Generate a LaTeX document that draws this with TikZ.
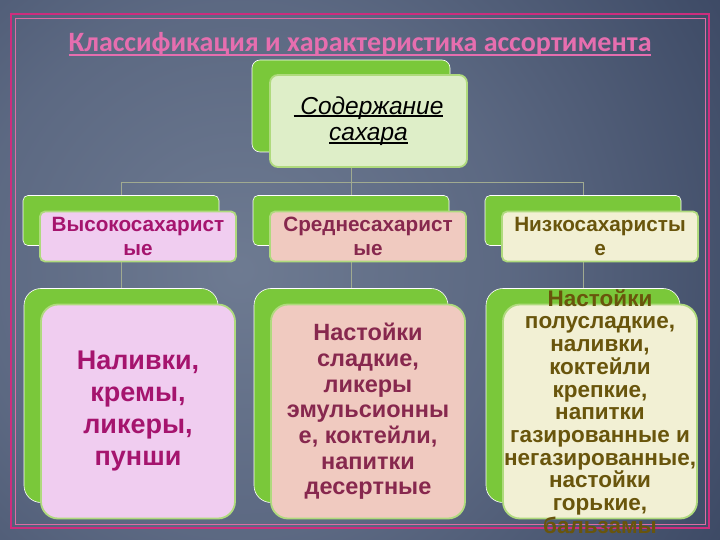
\documentclass[tikz,border=0pt]{standalone}
\usepackage{fontspec}
\setmainfont{Liberation Sans}
\newfontfamily\headfont{Carlito}
\usepackage{tikz}

\newcommand{\myuline}[2][3pt]{\setbox0\hbox{#2}\rlap{\rule[-#1]{\wd0}{1.6pt}}\box0}

\definecolor{bgdark}{RGB}{28,38,60}
\definecolor{framepink}{RGB}{205,45,125}
\definecolor{titlepink}{RGB}{230,110,175}
\definecolor{leafgreen}{RGB}{122,200,58}
\definecolor{edgegreen}{RGB}{175,218,125}
\definecolor{topfill}{RGB}{222,238,200}
\definecolor{highfill}{RGB}{240,205,240}
\definecolor{midfill}{RGB}{240,202,192}
\definecolor{lowfill}{RGB}{242,240,212}
\definecolor{hightext}{RGB}{165,20,110}
\definecolor{midtext}{RGB}{135,40,78}
\definecolor{lowtext}{RGB}{105,85,12}
\definecolor{linkgray}{RGB}{160,170,145}

\pgfdeclareradialshading{bgglow}{\pgfpointorigin}{rgb(0bp)=(0.43,0.48,0.57); rgb(12bp)=(0.36,0.41,0.51); rgb(30bp)=(0.19,0.24,0.35); rgb(50bp)=(0.11,0.15,0.25)}

\tikzset{
  backbox/.style={draw=white, line width=0.6pt, fill=leafgreen, rounded corners=5pt},
  frontbox/.style={draw=edgegreen, line width=1.8pt, rounded corners=5pt},
  smallbox/.style={minimum width=196pt, minimum height=50pt},
  bigbox/.style={minimum width=194pt, minimum height=214pt, rounded corners=17pt},
  link/.style={draw=linkgray, line width=0.7pt},
  headtext/.style={font=\fontsize{20.7}{24}\selectfont\bfseries, align=center},
  listtext/.style={align=center}
}

\begin{document}
\begin{tikzpicture}[x=1pt,y=-1pt]
\useasboundingbox (0,0) rectangle (720,540);
\begin{scope}
  \clip (0,0) rectangle (720,540);
  \shade[shading=bgglow] (240,270) circle (560);
\end{scope}
\draw[framepink, line width=2pt] (11,14) rectangle (709,528);
\draw[framepink!70, line width=0.7pt] (15,18) rectangle (705,524);

\node[text=titlepink, font=\headfont\fontsize{28}{32}\selectfont\bfseries] (title) at (360,44) {\myuline[5pt]{Классификация и характеристика ассортимента}};

% back boxes
\node[backbox, minimum width=198pt, minimum height=92pt, rounded corners=8pt] (sugarback) at (351,106) {};
\node[backbox, smallbox] (highback) at (121,220.5) {};
\node[backbox, smallbox] (midback) at (351,220.5) {};
\node[backbox, smallbox] (lowback) at (583,220.5) {};
\node[backbox, bigbox] (highbase) at (121,395.5) {};
\node[backbox, bigbox] (midbase) at (351,395.5) {};
\node[backbox, bigbox] (lowbase) at (583,395.5) {};

\coordinate (fork) at (351,182);
\draw[link] (sugarback.south) -- (fork);
\draw[link] (fork) -| (highback.north);
\draw[link] (fork) -- (midback.north);
\draw[link] (fork) -| (lowback.north);
\draw[link] (highback.south) -- (highbase.north);
\draw[link] (midback.south) -- (midbase.north);
\draw[link] (lowback.south) -- (lowbase.north);

% front boxes
\node[frontbox, fill=topfill, minimum width=197pt, minimum height=92pt, rounded corners=8pt,
  font=\fontsize{24.5}{26.5}\selectfont\itshape, align=center] (sugar) at (368.5,121) {\myuline{ Содержание}\\\myuline{сахара}};
\node[frontbox, smallbox, fill=highfill, headtext, text=hightext] (high) at (138,236.5) {Высокосахарист\\ые};
\node[frontbox, smallbox, fill=midfill, headtext, text=midtext] (mid) at (368,236.5) {Среднесахарист\\ые};
\node[frontbox, smallbox, fill=lowfill, headtext, text=lowtext] (low) at (600,236.5) {Низкосахаристы\\е};

\node[frontbox, bigbox, fill=highfill] (highfront) at (138,411.5) {};
\node[frontbox, bigbox, fill=midfill] (midfront) at (368,411.5) {};
\node[frontbox, bigbox, fill=lowfill] (lowfront) at (600,411.5) {};

\node[listtext, text=hightext, font=\fontsize{27}{32}\selectfont\bfseries] (highlist) at (highfront.center)
  {Наливки,\\кремы,\\ликеры,\\пунши};
\node[listtext, text=midtext, font=\fontsize{23.5}{25.7}\selectfont\bfseries] (midlist) at (midfront.center)
  {Настойки\\сладкие,\\ликеры\\эмульсионны\\е, коктейли,\\напитки\\десертные};
\node[listtext, text=lowtext, font=\fontsize{22.5}{22.7}\selectfont\bfseries] (lowlist) at (lowfront.center)
  {Настойки\\полусладкие,\\наливки,\\коктейли\\крепкие,\\напитки\\газированные и\\негазированные,\\настойки\\горькие,\\бальзамы};
\end{tikzpicture}
\end{document}
